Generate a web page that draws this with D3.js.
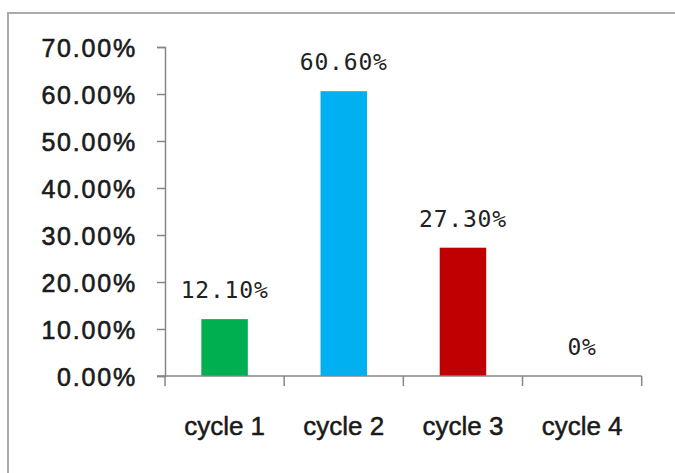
<!DOCTYPE html>
<html>
<head>
<meta charset="utf-8">
<script src="https://cdn.jsdelivr.net/npm/d3@7/dist/d3.min.js"></script>
<style>
html,body{margin:0;padding:0;background:#fff;}
svg{display:block;}
</style>
</head>
<body>
<svg id="chart" width="675" height="473"></svg>
<script>
const categories = ["cycle 1", "cycle 2", "cycle 3", "cycle 4"];
const values = [12.1, 60.6, 27.3, 0];
const valueLabels = ["12.10%", "60.60%", "27.30%", "0%"];
const barColors = ["#00B050", "#00B0F0", "#C00000", "#7F7F7F"];
const yTicks = [0, 10, 20, 30, 40, 50, 60, 70];

const svg = d3.select("#chart");

// outer border (chart area frame)
svg.append("rect")
  .attr("x", 8).attr("y", 13)
  .attr("width", 720).attr("height", 520)
  .attr("fill", "#fff")
  .attr("stroke", "#ababab")
  .attr("stroke-width", 2);

const plot = {left: 165, right: 641.7, top: 47, bottom: 376};

const x = d3.scaleBand()
  .domain(categories)
  .range([plot.left, plot.right])
  .paddingInner(0.61)
  .paddingOuter(0.305);

const y = d3.scaleLinear()
  .domain([0, 70])
  .range([plot.bottom, plot.top]);

const axisColor = "#868686";

// bars
svg.append("g").selectAll("rect")
  .data(values)
  .join("rect")
  .attr("x", (d, i) => x(categories[i]))
  .attr("y", d => y(d))
  .attr("width", x.bandwidth())
  .attr("height", d => y(0) - y(d))
  .attr("fill", (d, i) => barColors[i]);

// y axis
const yAxis = svg.append("g")
  .attr("transform", `translate(${plot.left},0)`)
  .call(d3.axisLeft(y).tickValues(yTicks).tickSize(8).tickPadding(20)
    .tickFormat(d => d.toFixed(2) + "%"));
yAxis.select(".domain").attr("stroke", axisColor).attr("stroke-width", 1.5);
yAxis.selectAll(".tick line").attr("stroke", axisColor).attr("stroke-width", 1.5);
yAxis.selectAll(".tick text")
  .attr("font-family", "Liberation Sans, Arial, sans-serif")
  .attr("font-size", 25)
  .attr("letter-spacing", 1.8)
  .attr("fill", "#1a1a1a")
  .attr("stroke", "#1a1a1a")
  .attr("stroke-width", 0.6)
  .attr("dy", "0.36em");

// x axis
const xAxisG = svg.append("g")
  .attr("transform", `translate(0,${plot.bottom})`);
xAxisG.append("line")
  .attr("x1", plot.left - 8).attr("x2", plot.right)
  .attr("y1", 0).attr("y2", 0)
  .attr("stroke", axisColor).attr("stroke-width", 1.5);
const boundaries = categories.map(c => x(c) - x.step() * x.paddingInner() / 2);
boundaries.push(plot.right);
xAxisG.selectAll("line.ctick")
  .data(boundaries)
  .join("line")
  .attr("class", "ctick")
  .attr("x1", d => d).attr("x2", d => d)
  .attr("y1", 0).attr("y2", 10)
  .attr("stroke", axisColor).attr("stroke-width", 1.5);
xAxisG.selectAll("text.clabel")
  .data(categories)
  .join("text")
  .attr("class", "clabel")
  .attr("x", d => x(d) + x.bandwidth() / 2)
  .attr("y", 59)
  .attr("text-anchor", "middle")
  .attr("font-family", "Liberation Sans, Arial, sans-serif")
  .attr("font-size", 26)
  .attr("fill", "#1a1a1a")
  .attr("stroke", "#1a1a1a")
  .attr("stroke-width", 0.5)
  .text(d => d);

// value labels
svg.append("g").selectAll("text")
  .data(values)
  .join("text")
  .attr("x", (d, i) => x(categories[i]) + x.bandwidth() / 2)
  .attr("y", d => y(d) - 21)
  .attr("text-anchor", "middle")
  .attr("font-family", "DejaVu Sans Mono, monospace")
  .attr("font-size", 23)
  .attr("letter-spacing", 0.8)
  .attr("fill", "#222")
  .text((d, i) => valueLabels[i]);
</script>
</body>
</html>
